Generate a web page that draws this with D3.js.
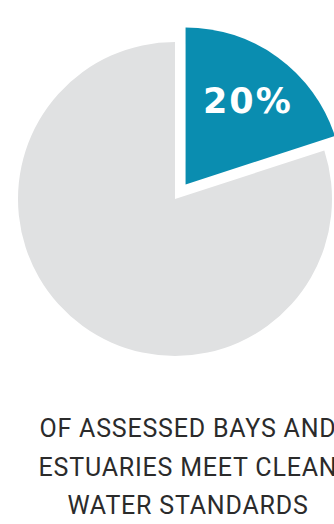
<!DOCTYPE html>
<html>
<head>
<meta charset="utf-8">
<script src="https://cdn.jsdelivr.net/npm/d3@7"></script>
<style>
  html, body { margin: 0; padding: 0; background: #ffffff; }
  svg { display: block; }
</style>
</head>
<body>
<svg id="chart" width="334" height="524"></svg>
<script>
// Share of assessed bays and estuaries that meet clean water standards
const categories = ["Meet standards", "Do not meet standards"];
const values = [20, 80];
const colors = ["#0a8db0", "#e0e1e2"];
const captionLines = [
  "OF ASSESSED BAYS AND",
  "ESTUARIES MEET CLEAN",
  "WATER STANDARDS"
];

const svg = d3.select("#chart");
const cx = 175, cy = 199, radius = 157, explode = 18;

const pie = d3.pie().sort(null).value(d => d);
const arcs = pie(values);
const arc = d3.arc().innerRadius(0).outerRadius(radius);
const labelArc = d3.arc().innerRadius(106).outerRadius(106);

const g = svg.append("g").attr("transform", `translate(${cx},${cy})`);

// Pull the highlighted slice outward along its bisector
function offset(d, i) {
  if (i !== 0) return [0, 0];
  const a = (d.startAngle + d.endAngle) / 2;
  return [Math.sin(a) * explode, -Math.cos(a) * explode];
}

const slices = g.selectAll("g.slice")
  .data(arcs)
  .join("g")
  .attr("class", "slice")
  .attr("transform", (d, i) => `translate(${offset(d, i)})`);

slices.append("path")
  .attr("d", arc)
  .attr("fill", (d, i) => colors[i]);

// Percentage label on the highlighted slice
slices.filter((d, i) => i === 0)
  .append("text")
  .attr("transform", d => `translate(${labelArc.centroid(d)})`)
  .attr("text-anchor", "middle")
  .attr("dy", "0.42em")
  .attr("fill", "#ffffff")
  .attr("font-family", "'DejaVu Sans', sans-serif")
  .attr("font-weight", "bold")
  .attr("font-size", 35)
  .attr("letter-spacing", 2)
  .text(d => d.data + "%");

// Caption below the pie
svg.append("g")
  .selectAll("text")
  .data(captionLines)
  .join("text")
  .attr("x", 188)
  .attr("y", (d, i) => 437 + i * 38.5)
  .attr("text-anchor", "middle")
  .attr("fill", "#2b2b2b")
  .attr("font-family", "Roboto, sans-serif")
  .attr("font-size", 25)
  .attr("letter-spacing", 0.8)
  .text(d => d);
</script>
</body>
</html>
